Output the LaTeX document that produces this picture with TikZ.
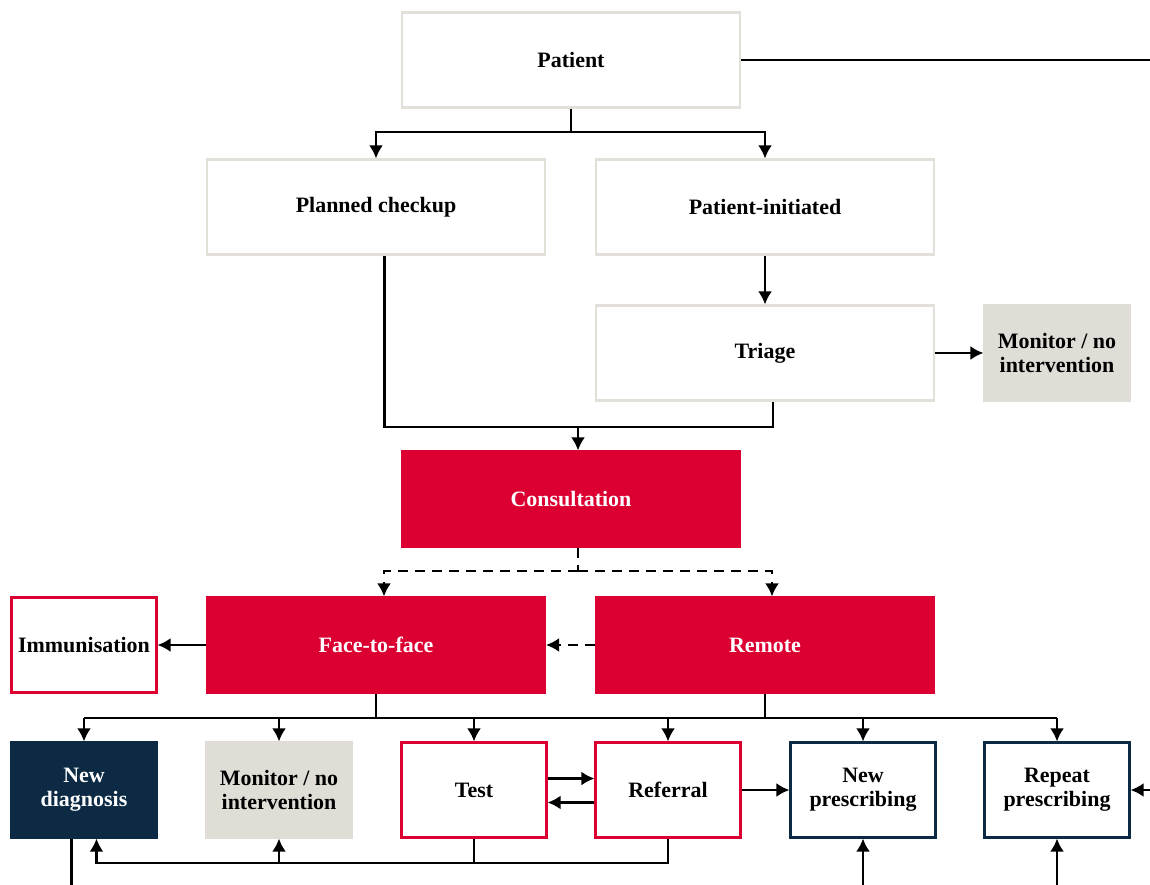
\documentclass[tikz,border=0pt]{standalone}
\usepackage{fontspec}
\setmainfont{Liberation Serif}
\usetikzlibrary{positioning, arrows.meta}
\definecolor{careRed}{HTML}{DC0032}
\definecolor{careNavy}{HTML}{0C2A44}
\definecolor{careGrey}{HTML}{E0DDD7}
\definecolor{careLine}{HTML}{E3E0DA}

\begin{document}
\begin{tikzpicture}[x=0.02cm, y=-0.02cm]
\tikzset{box/.style={draw=careLine, line width=1.2pt, fill=white, minimum height=1.9cm, inner sep=0pt,
                     align=center, font=\bfseries\fontsize{12.5}{13.7}\selectfont},
         wide/.style={box, minimum width=6.76cm},
         small/.style={box, minimum width=2.9cm},
         redfill/.style={fill=careRed, draw=careRed, text=white},
         redline/.style={draw=careRed},
         navyfill/.style={fill=careNavy, draw=careNavy, text=white},
         navyline/.style={draw=careNavy},
         greyfill/.style={fill=careGrey, draw=careGrey},
         link/.style={line width=1.3pt, -{Latex[length=7.5pt, width=8pt]}},
         plain/.style={line width=1.3pt},
         dash line/.style={dash pattern=on 5.7pt off 4pt}}
\useasboundingbox (0,0) rectangle (1150,885);

\node[wide] (P) at (571,60) {Patient};
\node[wide] (PC) at (376,207) {Planned checkup};
\node[wide] (PI) at (765,207) {Patient-initiated};
\node[wide] (T) at (765,353) {Triage};
\node[small, greyfill] (M1) at (1057,353) {Monitor / no\\intervention};
\node[wide, redfill] (C) at (571,499) {Consultation};
\node[wide, redfill] (F) at (376,645) {Face-to-face};
\node[wide, redfill] (R) at (765,645) {Remote};
\node[small, redline] (I) at (84,645) {Immunisation};

\node[small, navyfill] (ND) at (84,790) {New\\diagnosis};
\node[small, greyfill] (M2) at (279,790) {Monitor / no\\intervention};
\node[small, redline] (TS) at (474,790) {Test};
\node[small, redline] (RF) at (668,790) {Referral};
\node[small, navyline] (NP) at (863,790) {New\\prescribing};
\node[small, navyline] (RP) at (1057,790) {Repeat\\prescribing};

\coordinate (j1) at (571,132);
\coordinate (j2) at (578,427);
\coordinate (j3) at (578,571);
\coordinate (j4) at (571,718);
\coordinate (j5) at (571,863);
\coordinate (e1) at (1150,60);
\coordinate (e2) at (1150,790);

\draw[plain] (P) -- (e1);
\draw[plain] (P) -- (j1);
\draw[link] (j1) -| (PC);
\draw[link] (j1) -| (PI);
\draw[link] (PI) -- (T);
\draw[link] (T) -- (M1);
\draw[plain] ([xshift=0.17cm]PC.south) |- (j2) -| ([xshift=0.16cm]T.south);
\draw[link] (j2) -- (j2 |- C.north);

\draw[plain, dash line] (j2 |- C.south) -- (j3);
\draw[link, dash line] (j3) -| ([xshift=0.16cm]F.north);
\draw[link, dash line] (j3) -| ([xshift=0.14cm]R.north);
\draw[link, dash line] (R) -- (F);
\draw[link] (F) -- (I);

\draw[plain] (F.south) -- (F.south |- j4);
\draw[plain] (R.south) -- (R.south |- j4);
\draw[plain] (ND.north |- j4) -- (RP.north |- j4);
\foreach \n in {ND, M2, TS, RF, NP, RP}
  \draw[link] (\n.north |- j4) -- (\n.north);

\draw[link] ([yshift=0.23cm]TS.east) -- ([yshift=0.23cm]RF.west);
\draw[link] ([yshift=-0.25cm]RF.west) -- ([yshift=-0.25cm]TS.east);
\draw[link] (RF) -- (NP);
\draw[link] (e2) -- (RP);

\coordinate (ndin) at ([xshift=0.25cm]ND.south);
\draw[plain] (TS.south) -- (TS.south |- j5);
\draw[link] (RF.south) |- (ndin |- j5) -- (ndin);
\draw[link] (M2.south |- j5) -- (M2.south);
\draw[plain] ([xshift=-0.25cm]ND.south) -- ++(0,47);
\draw[link] (NP.south) ++(0,47) -- (NP.south);
\draw[link] (RP.south) ++(0,47) -- (RP.south);
\end{tikzpicture}
\end{document}
